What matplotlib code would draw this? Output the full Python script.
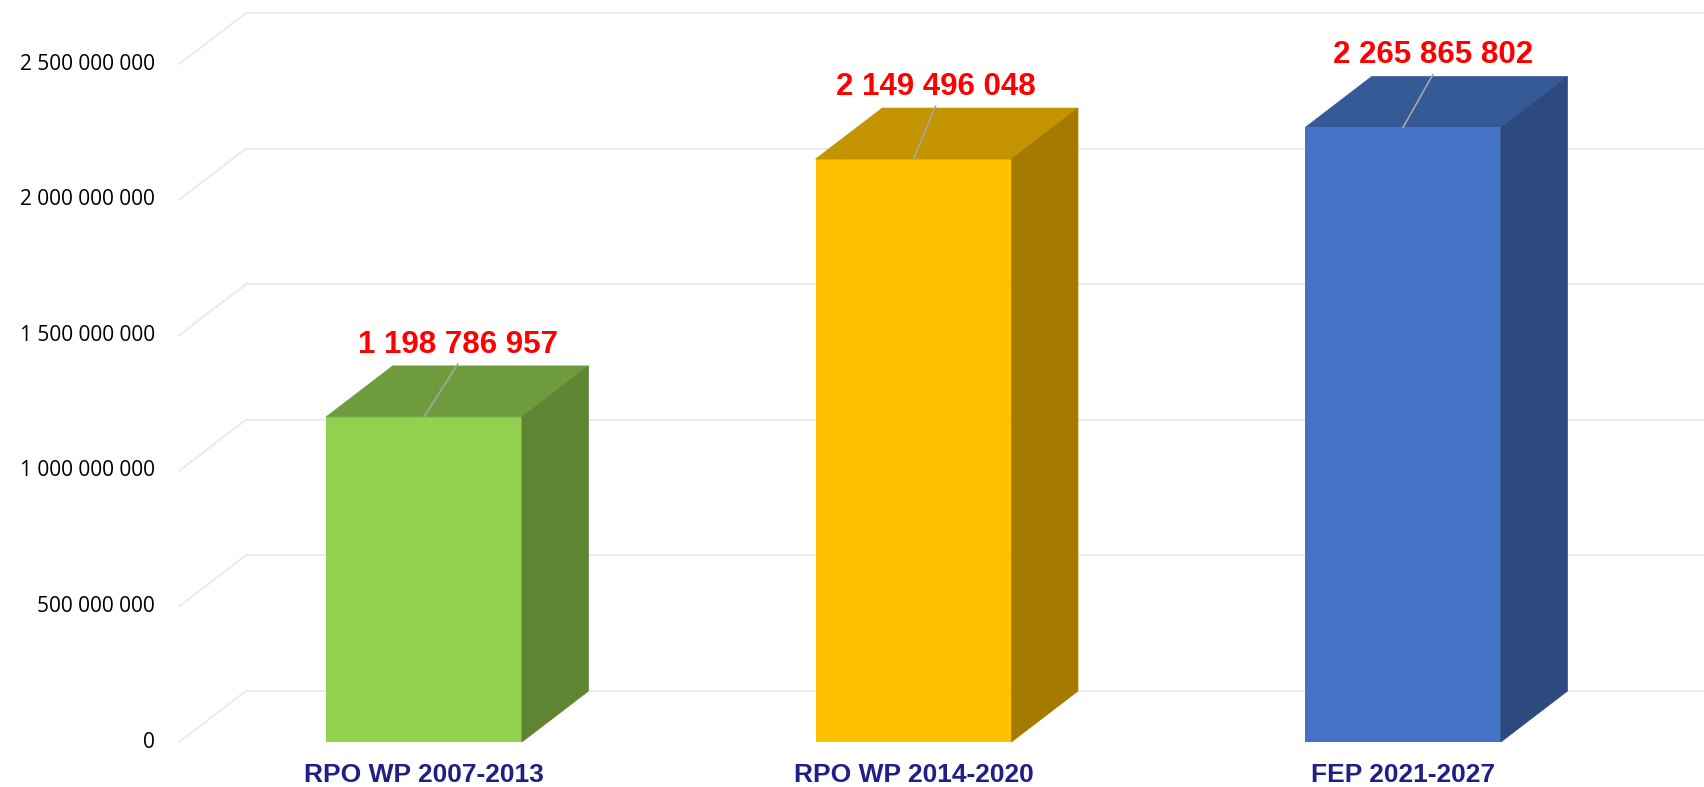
import matplotlib.pyplot as plt
from matplotlib.patches import Polygon

# dane
categories = ["RPO WP 2007-2013", "RPO WP 2014-2020", "FEP 2021-2027"]
values = [1198786957, 2149496048, 2265865802]
value_labels = ["1 198 786 957", "2 149 496 048", "2 265 865 802"]
ticks = [0, 500000000, 1000000000, 1500000000, 2000000000, 2500000000]
tick_labels = ["0", "500 000 000", "1 000 000 000", "1 500 000 000",
               "2 000 000 000", "2 500 000 000"]

# kolory: przod, gora, bok
front_colors = ["#92D050", "#FFC000", "#4472C4"]
top_colors = ["#6E9C3D", "#C39300", "#355A96"]
side_colors = ["#5F8532", "#A47B00", "#2C4A7E"]

# glebokosc "3D" w jednostkach danych
dx = 0.136
dy = 0.188e9
w = 0.4
label_dx = [0.069, 0.045, 0.061]

fig = plt.figure(figsize=(17.04, 7.87), dpi=100)
ax = fig.add_axes([0, 0, 1, 1])
ax.set_xlim(-0.8662, 2.6149)
ax.set_ylim(-0.1659e9, 2.736e9)
ax.axis("off")

grid_c = "#EBEBEB"
for t, lab in zip(ticks, tick_labels):
    ax.plot([-0.5, -0.5 + dx], [t, t + dy], color=grid_c, lw=1.4, zorder=1)
    ax.plot([-0.5 + dx, 3.0], [t + dy, t + dy], color=grid_c, lw=1.4, zorder=1)
    ax.text(-0.5495, t, lab, ha="right", va="center", fontsize=15,
            family="Open Sans", color="black")

x = list(range(len(values)))
ax.bar(x, values, width=w, color=front_colors, zorder=3)

for i, v in enumerate(values):
    left = i - w / 2
    right = i + w / 2
    top = Polygon([(left, v), (right, v), (right + dx, v + dy), (left + dx, v + dy)],
                  closed=True, facecolor=top_colors[i], edgecolor=top_colors[i],
                  lw=0.5, zorder=3)
    side = Polygon([(right, 0), (right + dx, dy), (right + dx, v + dy), (right, v)],
                   closed=True, facecolor=side_colors[i], edgecolor=side_colors[i],
                   lw=0.5, zorder=3)
    ax.add_patch(top)
    ax.add_patch(side)
    # linia odniesienia + etykieta
    ax.plot([i, i + label_dx[i]], [v, v + 0.195e9], color="#A6A6A6", lw=1.2, zorder=4)
    ax.text(i + label_dx[i], v + 0.236e9, value_labels[i], ha="center", va="baseline",
            fontsize=22.5, fontweight="bold", family="Liberation Sans", color="#FF0000",
            zorder=5)
    ax.text(i, -0.1475e9, categories[i], ha="center", va="baseline", fontsize=19,
            fontweight="bold", family="Liberation Sans", color="#1F1F87")

fig.savefig("out.png", dpi=100)
